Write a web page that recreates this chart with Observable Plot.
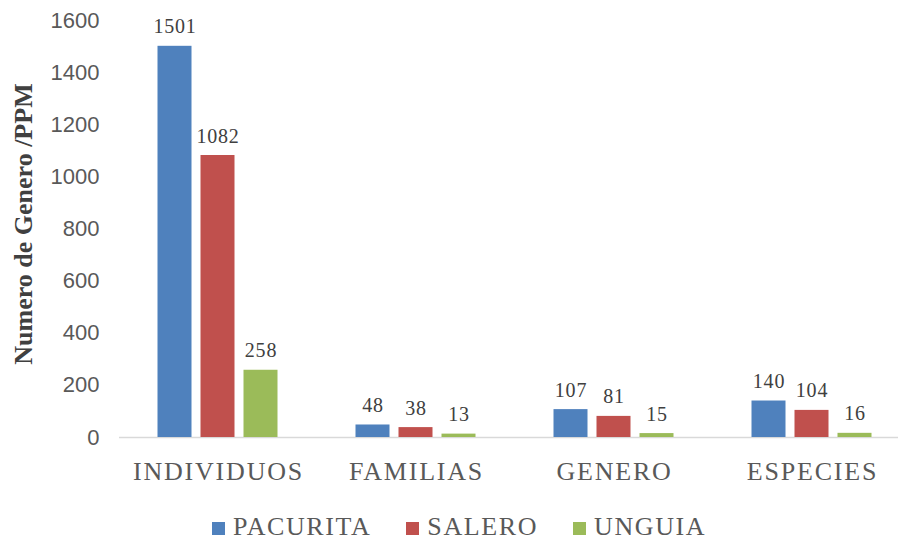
<!DOCTYPE html>
<html>
<head>
<meta charset="utf-8">
<script src="https://cdn.jsdelivr.net/npm/d3@7"></script>
<script src="https://cdn.jsdelivr.net/npm/@observablehq/plot@0.6"></script>
<style>
  html, body { margin: 0; padding: 0; background: #fff; }
  #wrap { position: relative; width: 898px; height: 541px; overflow: hidden; background: #fff; }
  #ytitle {
    position: absolute; left: 23.5px; top: 224px;
    transform: translate(-50%, -50%) rotate(-90deg);
    white-space: nowrap; font: bold 26px "Liberation Serif", serif; line-height: 1;
    color: #404040;
  }
  #legend {
    position: absolute; top: 514px; left: 212px; display: flex; align-items: baseline;
    font: 26px "Liberation Serif", serif; line-height: 25px; color: #595959; letter-spacing: 1.6px;
  }
  #legend .item { margin-right: 35px; white-space: nowrap; }
  #legend .sw { display: inline-block; width: 13px; height: 13px; margin-right: 8px; vertical-align: baseline; }
  g[aria-label="fx-axis tick label"] text { letter-spacing: 1.8px; }
  g[aria-label="text"] text { letter-spacing: 0.8px; }
</style>
</head>
<body>
<div id="wrap">
  <div id="chart"></div>
  <div id="ytitle">Numero de Genero /PPM</div>
  <div id="legend"></div>
</div>
<script>
const categories = ["INDIVIDUOS", "FAMILIAS", "GENERO", "ESPECIES"];
const series = ["PACURITA", "SALERO", "UNGUIA"];
const pacurita = [1501, 48, 107, 140];
const salero = [1082, 38, 81, 104];
const unguia = [258, 13, 15, 16];
const yTicks = [0, 200, 400, 600, 800, 1000, 1200, 1400, 1600];
const colors = ["#4F81BD", "#C0504D", "#9BBB59"];

const valuesBySeries = [pacurita, salero, unguia];
const rows = [];
categories.forEach((c, i) => {
  series.forEach((s, j) => {
    rows.push({category: c, series: s, value: valuesBySeries[j][i]});
  });
});

const chart = Plot.plot({
  width: 898,
  height: 505,
  marginTop: 20,
  marginBottom: 68,
  marginLeft: 118.5,
  marginRight: 0,
  style: {fontFamily: "'Liberation Serif', serif", background: "white"},
  fx: {domain: categories, range: [118.5, 910.9], padding: 0, axis: null},
  x: {domain: series, paddingInner: 0.2, paddingOuter: 0.87, axis: null},
  y: {domain: [0, 1600], axis: null},
  color: {domain: series, range: colors},
  marks: [
    Plot.ruleY([0], {stroke: "#D9D9D9", strokeWidth: 1.5}),
    Plot.barY(rows, {fx: "category", x: "series", y: "value", fill: "series"}),
    Plot.text(rows, {
      fx: "category", x: "series", y: "value", text: d => String(d.value),
      lineAnchor: "bottom", dy: -13, fontSize: 20, fill: "#404040"
    }),
    Plot.axisFx({
      anchor: "bottom", tickSize: 0, tickPadding: 24, label: null,
      fontSize: 26, fill: "#595959", fontFamily: "'Liberation Serif', serif"
    }),
    Plot.axisY(yTicks, {
      anchor: "left", tickSize: 0, tickPadding: 20, label: null, tickFormat: d => String(d),
      fontSize: 22, fill: "#595959", fontFamily: "'Liberation Sans', sans-serif",
      facetAnchor: "left"
    })
  ]
});
document.getElementById("chart").appendChild(chart);

const legend = document.getElementById("legend");
series.forEach((s, j) => {
  const item = document.createElement("span");
  item.className = "item";
  const sw = document.createElement("span");
  sw.className = "sw";
  sw.style.background = colors[j];
  item.appendChild(sw);
  item.appendChild(document.createTextNode(s));
  legend.appendChild(item);
});
</script>
</body>
</html>
